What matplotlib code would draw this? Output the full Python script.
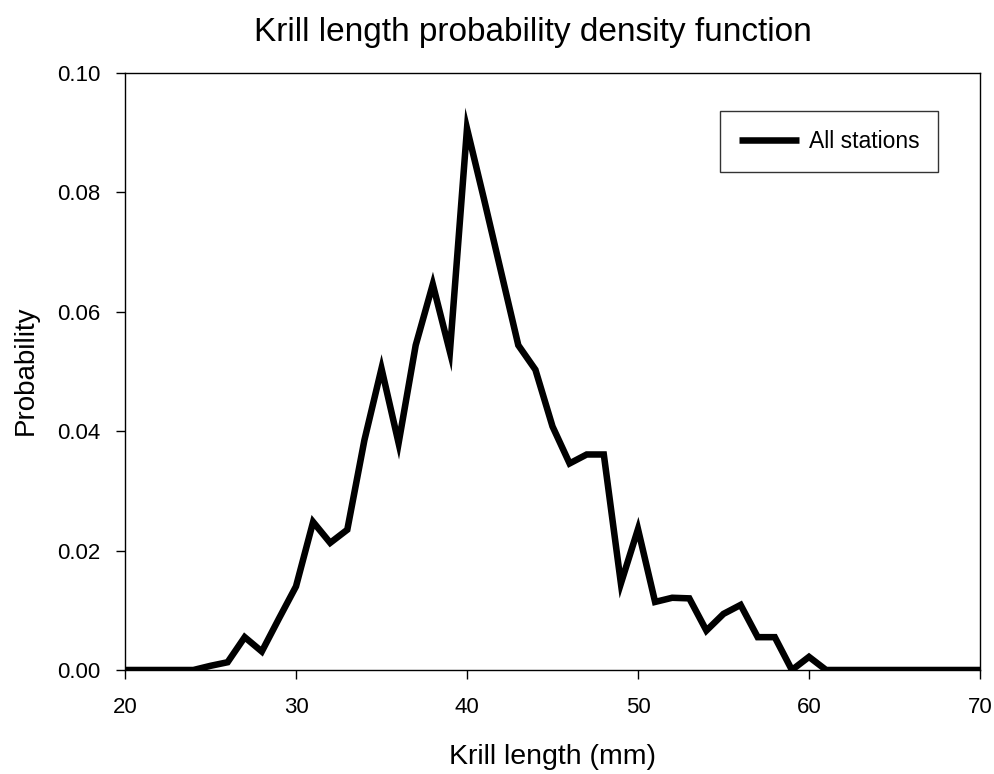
import numpy as np
import matplotlib
matplotlib.use("Agg")
import matplotlib.pyplot as plt

plt.rcParams['font.family'] = ['Liberation Sans', 'DejaVu Sans']

# krill length (mm) and probability
length_mm = list(range(20, 71))
probability = [
    0.0, 0.0, 0.0, 0.0, 0.0,            # 20-24
    0.0007, 0.0013, 0.0055, 0.0031, 0.0086,   # 25-29
    0.0140, 0.0248, 0.0213, 0.0235, 0.0385,   # 30-34
    0.0505, 0.0380, 0.0544, 0.0646, 0.0533,   # 35-39
    0.0907, 0.0788, 0.0666, 0.0544, 0.0503,   # 40-44
    0.0408, 0.0346, 0.0361, 0.0361, 0.0145,   # 45-49
    0.0236, 0.0114, 0.0121, 0.0120, 0.0066,   # 50-54
    0.0094, 0.0109, 0.0055, 0.0055, 0.0,      # 55-59
    0.0022, 0.0, 0.0, 0.0, 0.0,               # 60-64
    0.0, 0.0, 0.0, 0.0, 0.0, 0.0,             # 65-70
]
x_ticks = [20, 30, 40, 50, 60, 70]
y_ticks = [0.00, 0.02, 0.04, 0.06, 0.08, 0.10]

W, H = 995, 774
fig = plt.figure(figsize=(W / 100, H / 100), dpi=100)
ax = fig.add_axes([125 / W, 1 - 670 / H, 855 / W, 597 / H])

ax.plot(length_mm, probability, color='black', lw=4.7,
        solid_joinstyle='miter', solid_capstyle='butt', label='All stations')

ax.set_xlim(20, 70)
ax.set_ylim(0, 0.10)
ax.set_xticks(x_ticks)
ax.set_yticks(y_ticks)
ax.set_yticklabels(['%.2f' % v for v in y_ticks])
ax.tick_params(direction='out', length=6.7, width=1, labelsize=16)
ax.tick_params(axis='x', pad=12.5)
ax.tick_params(axis='y', pad=11)
for s in ax.spines.values():
    s.set_linewidth(1)

# axis labels and title placed by baseline
fig.text(552.5 / W, 1 - 764 / H, 'Krill length (mm)', fontsize=20.5,
         ha='center', va='baseline')
fig.text(33 / W, 1 - 370 / H, 'Probability', fontsize=20, rotation=90,
         rotation_mode='anchor', ha='center', va='baseline')
fig.text(533 / W, 1 - 41 / H, 'Krill length probability density function',
         fontsize=24, ha='center', va='baseline')

leg = ax.legend(loc='upper right', bbox_to_anchor=(0.951, 0.936), borderaxespad=0,
                fontsize=16.5, frameon=True, fancybox=False, handlelength=2.62,
                borderpad=0.82, handletextpad=0.44)
leg.get_frame().set_edgecolor('black')
leg.get_frame().set_linewidth(1)

fig.savefig('out.png', dpi=100)
